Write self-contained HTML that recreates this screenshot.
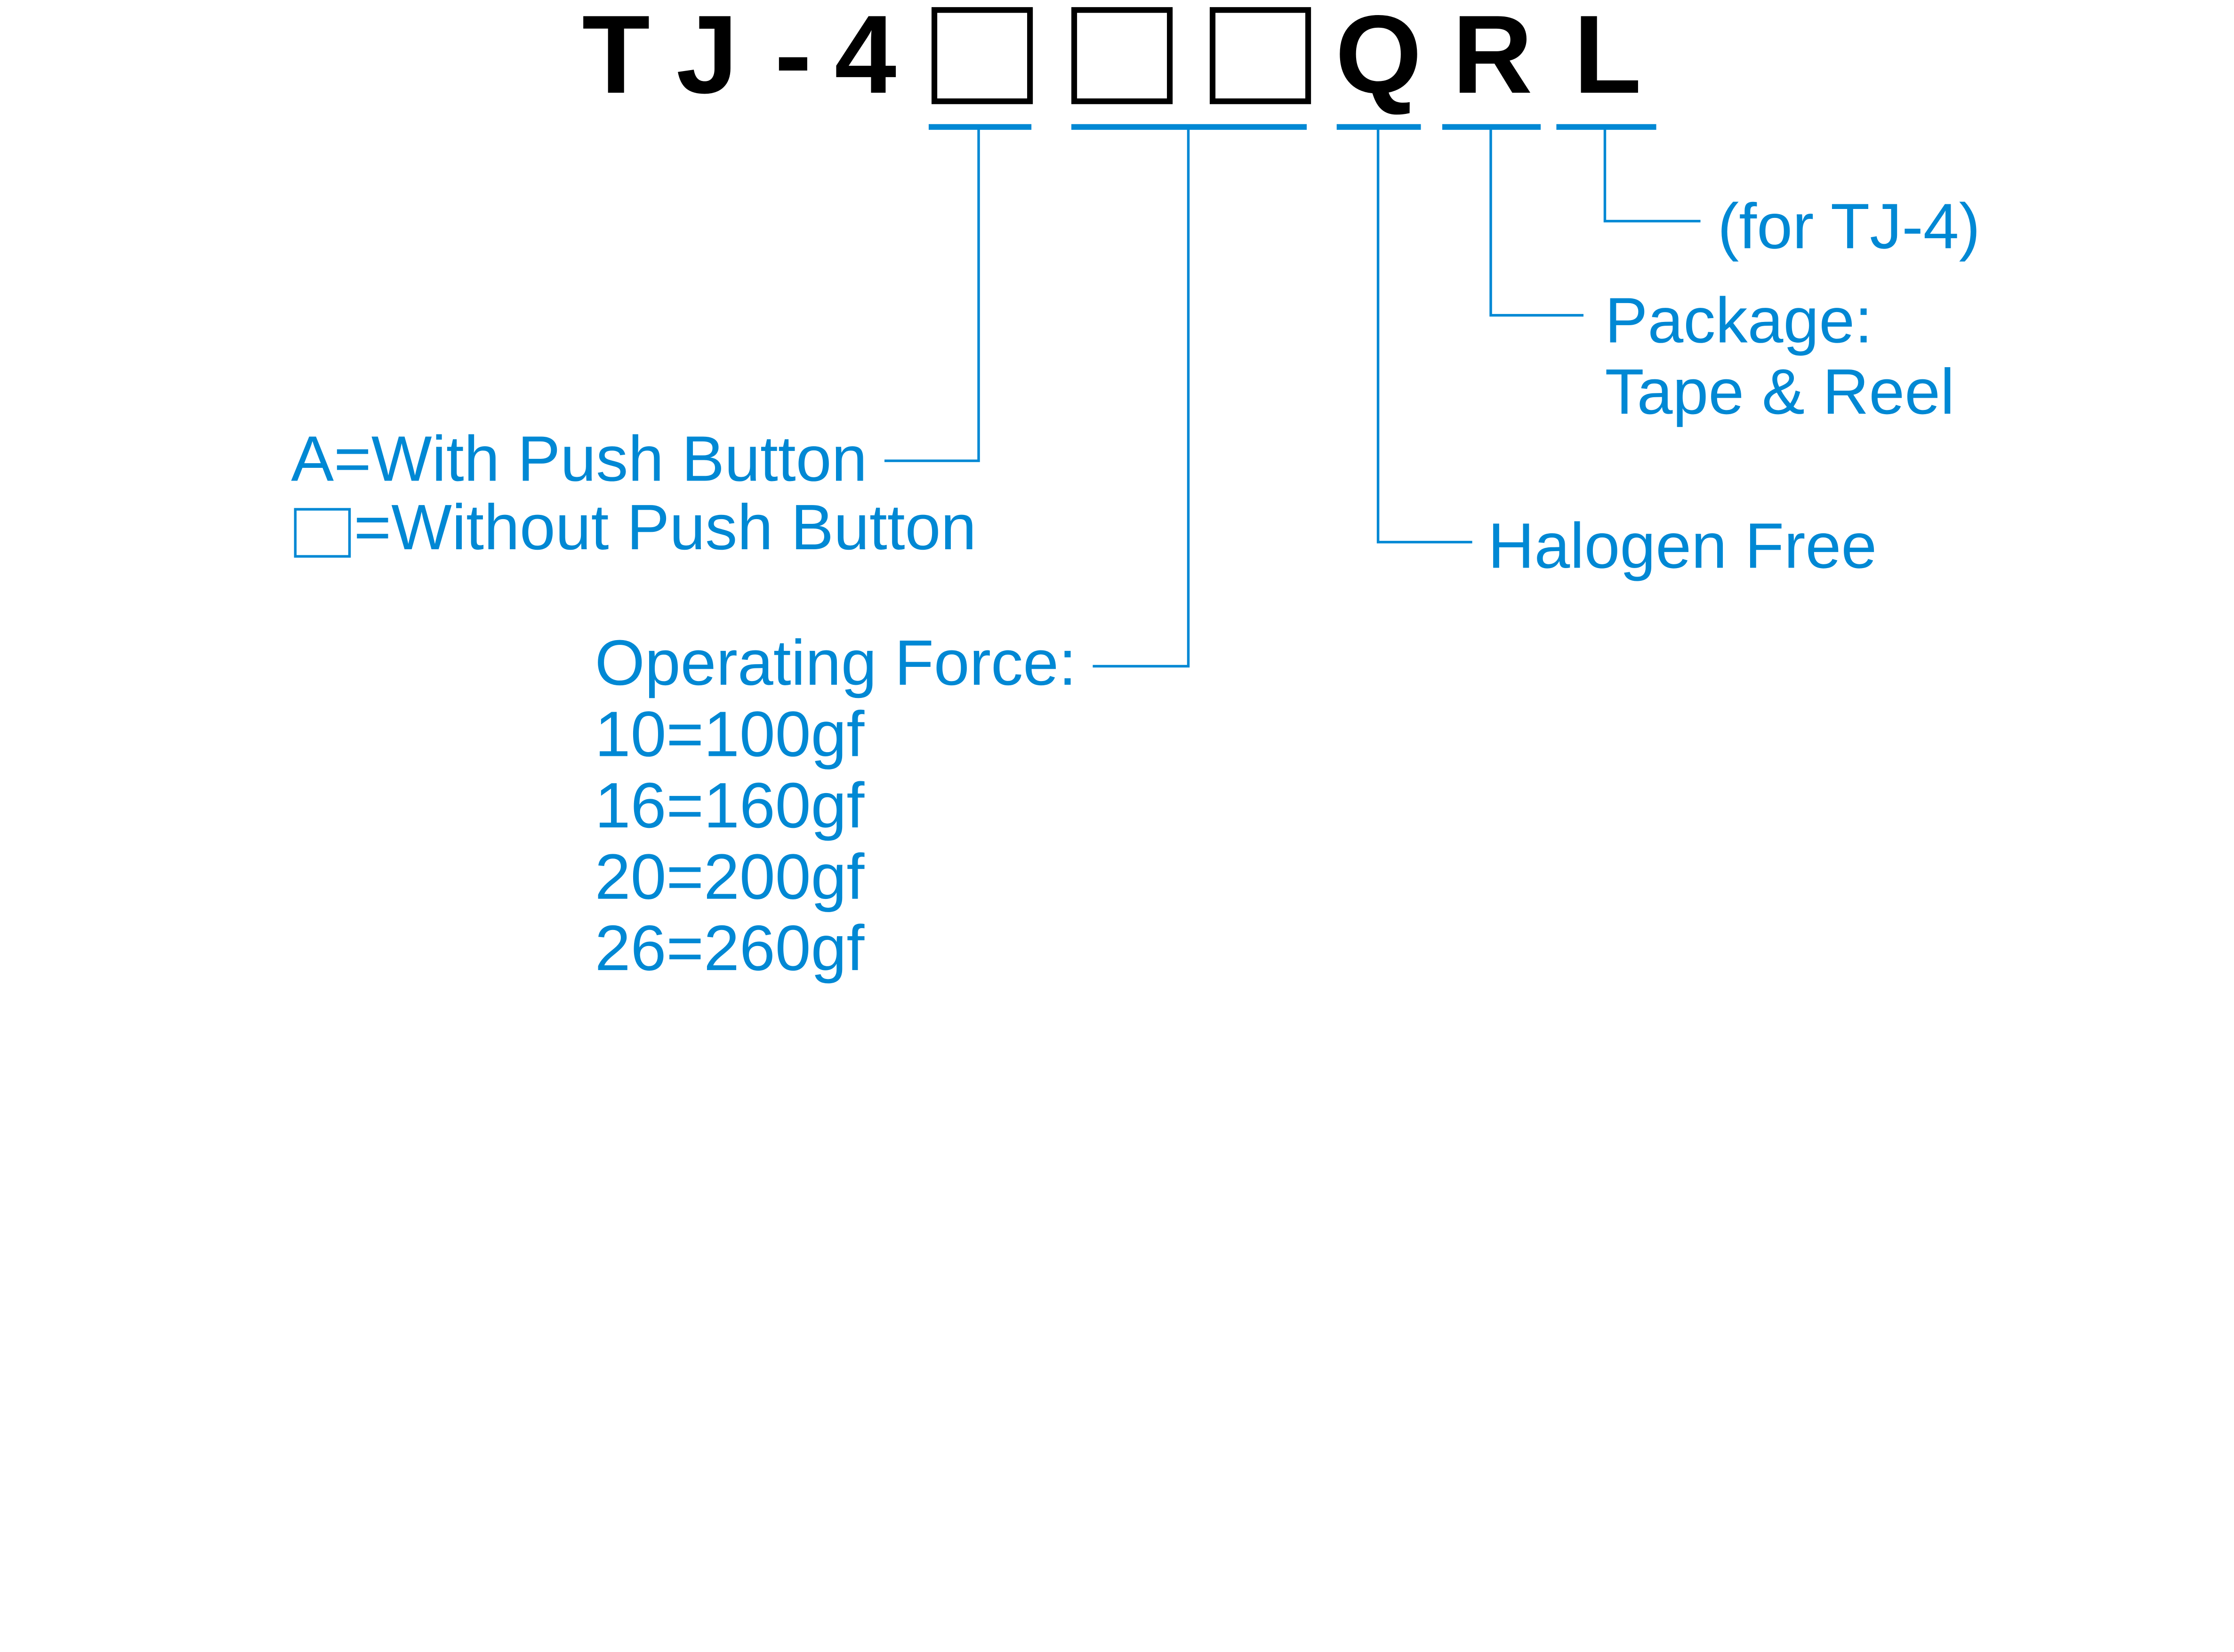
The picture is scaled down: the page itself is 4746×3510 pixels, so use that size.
<!DOCTYPE html>
<html><head><style>html,body{margin:0;padding:0;background:#fff}svg{display:block}</style></head>
<body>
<svg width="4746" height="3510" viewBox="0 0 1566 1158" preserveAspectRatio="none" xmlns="http://www.w3.org/2000/svg">
<g font-family="Liberation Sans, Arial, sans-serif" font-weight="bold" font-size="78" fill="#000">
<text x="408" y="65">T</text>
<text x="474" y="65">J</text>
<text x="543" y="65">-</text>
<text x="585" y="65">4</text>
<text x="936" y="65">Q</text>
<text x="1018" y="65">R</text>
<text x="1103" y="65">L</text>
</g>
<g fill="none" stroke="#000" stroke-width="4">
<rect x="655" y="7" width="67" height="64"/>
<rect x="753" y="7" width="67" height="64"/>
<rect x="850" y="7" width="67" height="64"/>
</g>
<g fill="#0088d4">
<rect x="651" y="87" width="72" height="4"/>
<rect x="751" y="87" width="165" height="4"/>
<rect x="937" y="87" width="59" height="4"/>
<rect x="1011" y="87" width="69" height="4"/>
<rect x="1091" y="87" width="70" height="4"/>
</g>
<g fill="none" stroke="#0088d4" stroke-width="1.8">
<polyline points="686,89 686,323 620,323"/>
<polyline points="833,89 833,467 766,467"/>
<polyline points="966,89 966,380 1032,380"/>
<polyline points="1045,89 1045,221 1110,221"/>
<polyline points="1125,89 1125,155 1192,155"/>
<rect x="207" y="357" width="38" height="33"/>
</g>
<g font-family="Liberation Sans, Arial, sans-serif" font-size="45" fill="#0088d4">
<text x="204" y="337">A=With Push Button</text>
<text x="248" y="385">=Without Push Button</text>
<text x="417" y="480">Operating Force:</text>
<text x="417" y="530">10=100gf</text>
<text x="417" y="580">16=160gf</text>
<text x="417" y="630">20=200gf</text>
<text x="417" y="680">26=260gf</text>
<text x="1043" y="398">Halogen Free</text>
<text x="1125" y="240">Package:</text>
<text x="1125" y="290">Tape &amp; Reel</text>
<text x="1204" y="174">(for TJ-4)</text>
</g>
</svg>
</body></html>
